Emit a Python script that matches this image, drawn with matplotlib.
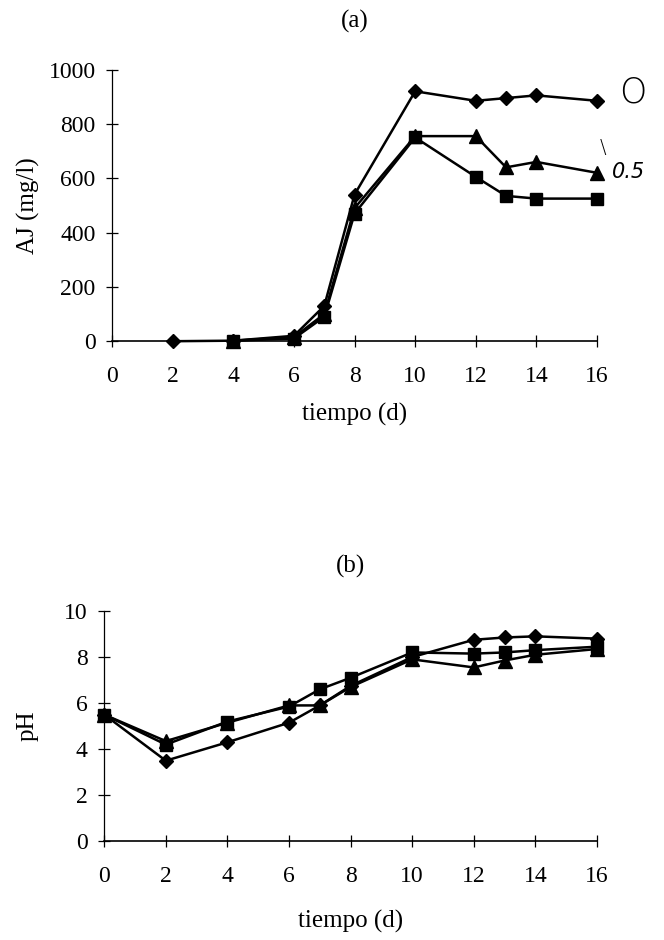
import matplotlib
matplotlib.use('Agg')
import matplotlib.pyplot as plt
import numpy as np

plt.rcParams['font.family'] = ['Liberation Serif', 'DejaVu Serif']

# ---- datos (a): AJ (mg/l) vs tiempo ----
t_a_diam = [2, 4, 6, 7, 8, 10, 12, 13, 14, 16]
aj_diam = [0, 2, 20, 130, 540, 920, 885, 895, 905, 885]
t_a_tri = [4, 6, 7, 8, 10, 12, 13, 14, 16]
aj_tri = [2, 15, 100, 490, 755, 755, 640, 660, 620]
t_a_sq = [4, 6, 7, 8, 10, 12, 13, 14, 16]
aj_sq = [2, 10, 90, 470, 750, 605, 535, 525, 525]

# ---- datos (b): pH vs tiempo ----
t_b = [0, 2, 4, 6, 7, 8, 10, 12, 13, 14, 16]
ph_diam = [5.5, 3.5, 4.3, 5.15, 5.9, 6.75, 8.0, 8.75, 8.85, 8.9, 8.8]
ph_tri = [5.5, 4.35, 5.15, 5.9, 5.9, 6.7, 7.9, 7.55, 7.85, 8.1, 8.35]
ph_sq = [5.5, 4.2, 5.2, 5.85, 6.6, 7.1, 8.2, 8.15, 8.2, 8.3, 8.45]

hand_labels = ['O', '\\', '0.5']  # anotaciones manuscritas (0, 1, 0.5)
x_ticks = [0, 2, 4, 6, 8, 10, 12, 14, 16]

fig = plt.figure(figsize=(6.64, 9.40), dpi=100)
ax_a = fig.add_axes([0.169, 0.637, 0.730, 0.289])
ax_b = fig.add_axes([0.157, 0.105, 0.742, 0.245])

line_kw = dict(color='black', linewidth=1.8, clip_on=False)


def setup_axis(ax, xlabelpad):
    for s in ('top', 'right'):
        ax.spines[s].set_visible(False)
    ax.spines['left'].set_linewidth(0.9)
    ax.spines['bottom'].set_linewidth(1.2)
    ax.tick_params(direction='inout', length=8, width=0.9, labelsize=17)
    ax.tick_params(axis='x', pad=14)
    ax.tick_params(axis='y', pad=8)
    ax.set_xlim(0, 16)
    ax.set_xticks(x_ticks)
    ax.set_xlabel('tiempo (d)', fontsize=18, labelpad=xlabelpad)


# (a)
ax_a.plot(t_a_diam, aj_diam, marker='D', markersize=7.5, **line_kw)
ax_a.plot(t_a_tri, aj_tri, marker='^', markersize=9.5, **line_kw)
ax_a.plot(t_a_sq, aj_sq, marker='s', markersize=8.5, **line_kw)
setup_axis(ax_a, 11)
ax_a.set_ylim(0, 1000)
ax_a.set_yticks(np.arange(0, 1001, 200))
ax_a.set_ylabel('AJ (mg/l)', fontsize=18, labelpad=6)
ax_a.set_title('(a)', fontsize=18, pad=30)

# anotaciones manuscritas junto al último punto de cada serie
hand_pts = [(t_a_diam[-1], aj_diam[-1]), (t_a_tri[-1], aj_tri[-1]), (t_a_sq[-1], aj_sq[-1])]
hand_offsets = [(16, 6), (2, 18), (11, 19)]
hand_sizes = [25, 14, 15]
for lab, pt, off, fs in zip(hand_labels, hand_pts, hand_offsets, hand_sizes):
    ax_a.annotate(lab, xy=pt, xytext=off, textcoords='offset points',
                  fontsize=fs, family=['DejaVu Sans'], fontweight='light',
                  fontstyle='italic' if lab == '0.5' else 'normal',
                  ha='left', va='center', annotation_clip=False)

# (b)
ax_b.plot(t_b, ph_diam, marker='D', markersize=7.5, **line_kw)
ax_b.plot(t_b, ph_tri, marker='^', markersize=9.5, **line_kw)
ax_b.plot(t_b, ph_sq, marker='s', markersize=8.5, **line_kw)
setup_axis(ax_b, 16)
ax_b.set_ylim(0, 10)
ax_b.set_yticks(np.arange(0, 11, 2))
ax_b.set_ylabel('pH', fontsize=18, labelpad=18)
ax_b.set_title('(b)', fontsize=18, pad=28)

fig.savefig('out.png', dpi=100)
